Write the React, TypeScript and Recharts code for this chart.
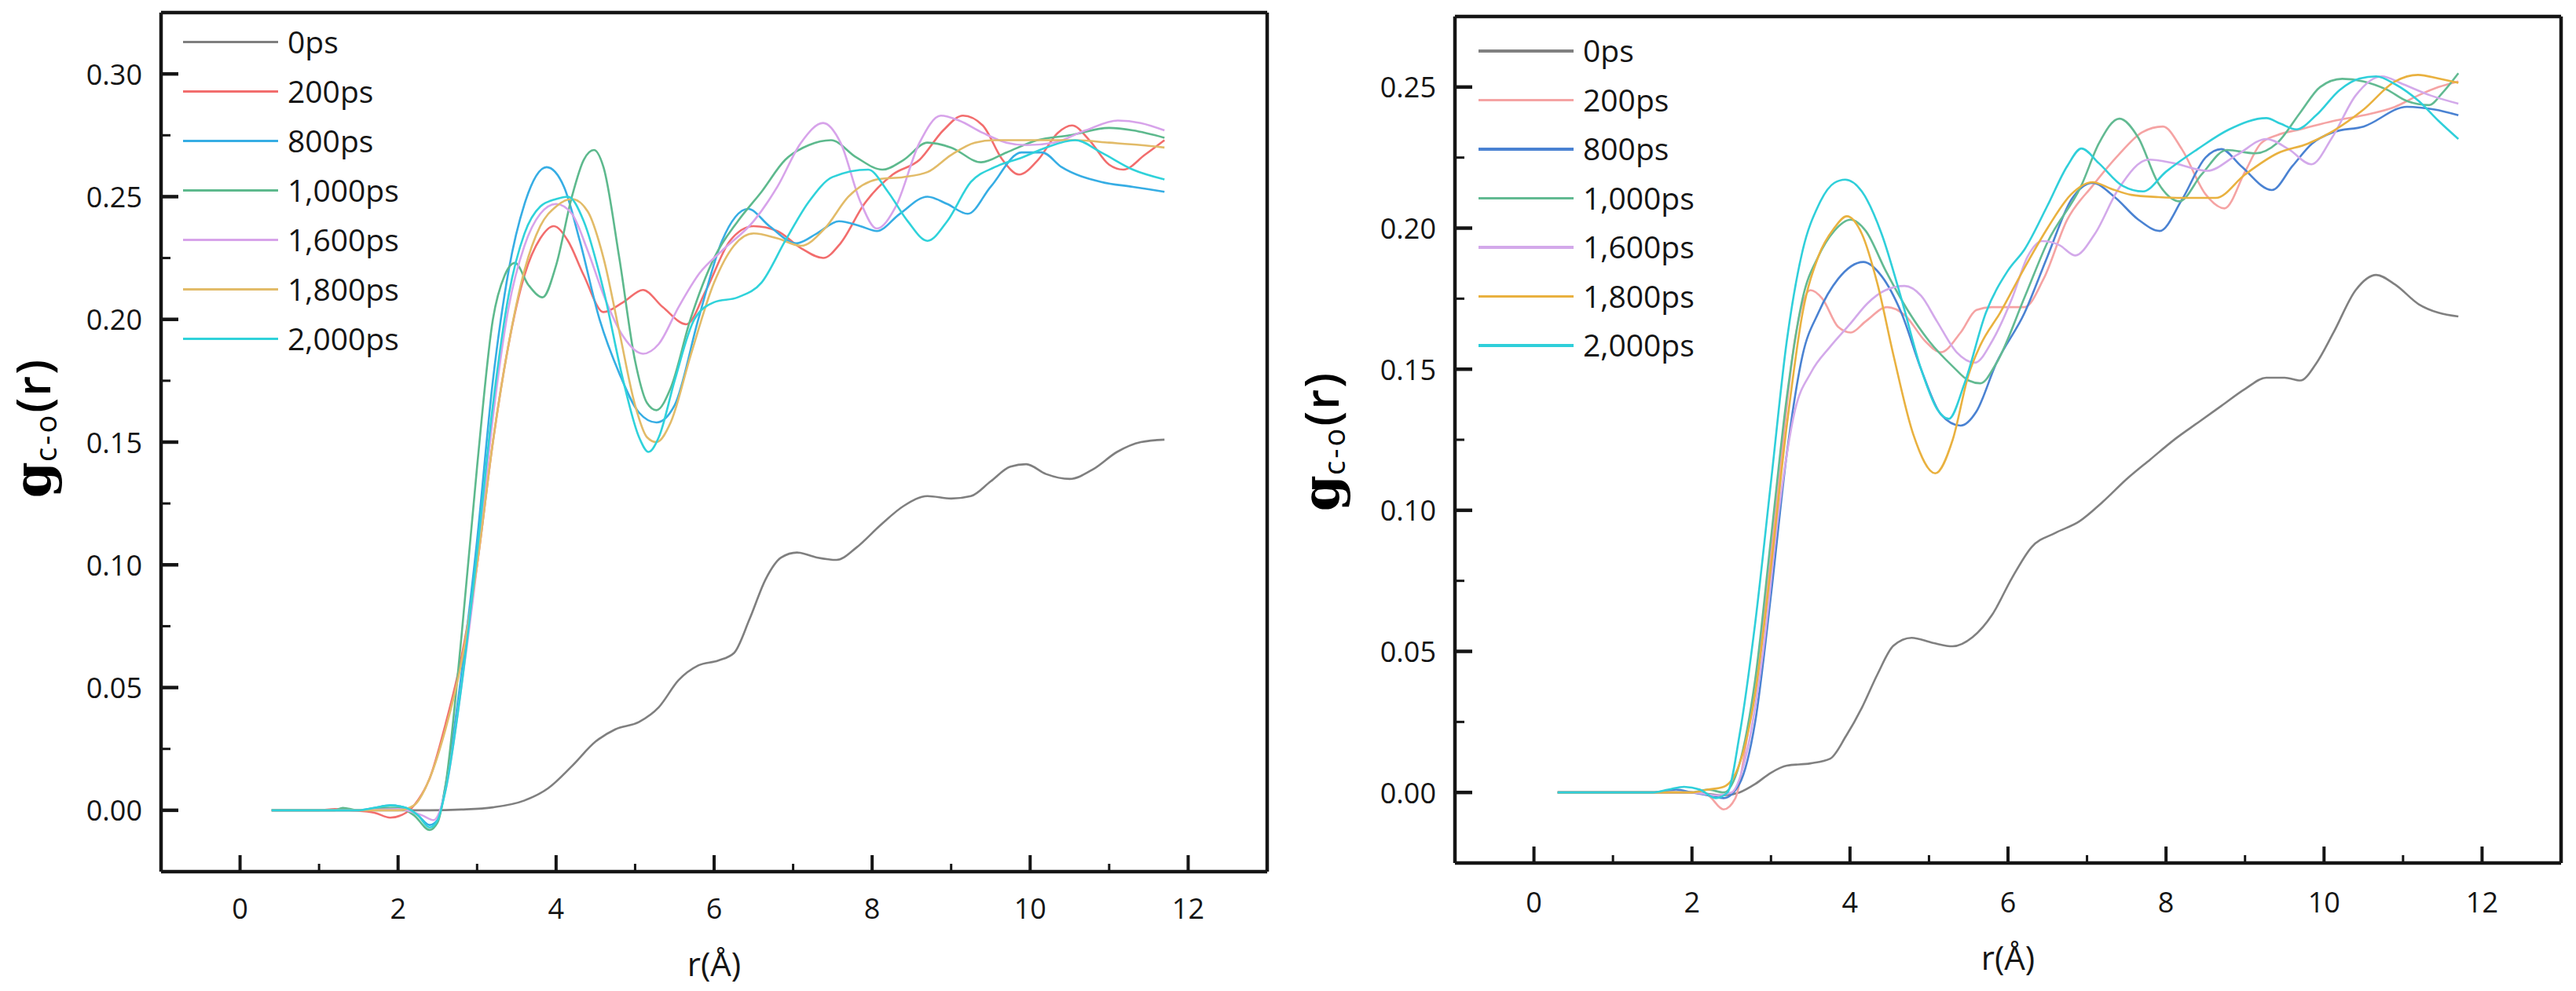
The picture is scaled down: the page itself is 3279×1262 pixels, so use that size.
import { LineChart, Line, XAxis, YAxis, ReferenceLine, Legend } from 'recharts';

type Pt = [number, number];

const H = 1262;
const SERIES = ['0ps', '200ps', '800ps', '1,000ps', '1,600ps', '1,800ps', '2,000ps'];
const X_TICKS = [0, 1, 2, 3, 4, 5, 6, 7, 8, 9, 10, 11, 12];
const Y_TICKS_LEFT = [0, 0.025, 0.05, 0.075, 0.1, 0.125, 0.15, 0.175, 0.2, 0.225, 0.25, 0.275, 0.3];
const Y_TICKS_RIGHT = [0, 0.025, 0.05, 0.075, 0.1, 0.125, 0.15, 0.175, 0.2, 0.225, 0.25];

const LEFT_COLORS = ['#7f7f7f', '#f26d6d', '#36ade4', '#5db98d', '#d7a3ea', '#e2bb68', '#2fd2da'];
const RIGHT_COLORS = ['#808080', '#f5a3a3', '#4a82d2', '#62ba92', '#d3a9ea', '#e9b13f', '#2fcfda'];

// ---- left panel: r (Å) vs g(r)
const L_0: Pt[] = [[0.4,0],[1.5,0],[2.4,0],[2.8,0.0003],[3.2,0.0012],[3.6,0.004],[3.9,0.009],[4.2,0.018],[4.5,0.028],[4.75,0.033],[5.05,0.036],[5.3,0.042],[5.55,0.053],[5.8,0.059],[6.05,0.061],[6.25,0.064],[6.45,0.078],[6.65,0.094],[6.85,0.103],[7.05,0.105],[7.3,0.103],[7.55,0.102],[7.8,0.107],[8.1,0.116],[8.4,0.124],[8.7,0.128],[9.0,0.127],[9.25,0.128],[9.5,0.134],[9.75,0.14],[9.95,0.141],[10.2,0.137],[10.5,0.135],[10.8,0.139],[11.1,0.146],[11.4,0.15],[11.7,0.151]];
const L_200: Pt[] = [[0.4,0],[1.0,0],[1.2,0.0005],[1.4,0],[1.7,-0.001],[1.9,-0.003],[2.1,-0.001],[2.25,0.004],[2.4,0.013],[2.6,0.035],[2.8,0.062],[3.0,0.1],[3.2,0.15],[3.4,0.19],[3.6,0.218],[3.8,0.233],[3.97,0.238],[4.15,0.232],[4.35,0.218],[4.6,0.203],[4.85,0.207],[5.1,0.212],[5.35,0.205],[5.65,0.198],[5.9,0.212],[6.2,0.232],[6.5,0.238],[6.8,0.236],[7.1,0.229],[7.38,0.225],[7.6,0.231],[7.9,0.247],[8.26,0.259],[8.6,0.265],[8.9,0.277],[9.15,0.283],[9.4,0.279],[9.65,0.265],[9.86,0.259],[10.1,0.265],[10.35,0.276],[10.53,0.279],[10.75,0.273],[11.0,0.263],[11.18,0.261],[11.45,0.267],[11.7,0.273]];
const L_800: Pt[] = [[0.4,0],[1.5,0],[1.7,0.001],[1.9,0.002],[2.1,0.001],[2.25,-0.002],[2.4,-0.006],[2.5,-0.004],[2.6,0.01],[2.8,0.055],[3.0,0.11],[3.2,0.175],[3.4,0.22],[3.6,0.247],[3.88,0.262],[4.1,0.254],[4.3,0.232],[4.55,0.2],[4.8,0.178],[5.05,0.162],[5.27,0.158],[5.5,0.165],[5.8,0.2],[6.1,0.232],[6.43,0.245],[6.7,0.238],[7.04,0.231],[7.3,0.235],[7.58,0.24],[7.85,0.238],[8.06,0.236],[8.35,0.243],[8.7,0.25],[8.95,0.247],[9.21,0.243],[9.5,0.254],[9.89,0.268],[10.15,0.268],[10.4,0.262],[10.9,0.256],[11.3,0.254],[11.7,0.252]];
const L_1000: Pt[] = [[0.4,0],[1.2,0],[1.3,0.001],[1.5,0],[1.8,0.001],[2.0,0.001],[2.2,-0.002],[2.4,-0.008],[2.5,-0.005],[2.6,0.01],[2.8,0.07],[3.0,0.14],[3.2,0.2],[3.35,0.218],[3.48,0.223],[3.65,0.214],[3.83,0.209],[4.0,0.222],[4.2,0.25],[4.35,0.265],[4.48,0.269],[4.6,0.262],[4.8,0.225],[5.0,0.183],[5.15,0.166],[5.27,0.163],[5.45,0.172],[5.7,0.2],[6.0,0.225],[6.3,0.24],[6.6,0.252],[6.9,0.265],[7.2,0.271],[7.48,0.273],[7.8,0.266],[8.13,0.261],[8.4,0.265],[8.7,0.272],[9.0,0.27],[9.38,0.264],[9.7,0.268],[10.09,0.273],[10.5,0.275],[11.0,0.278],[11.3,0.277],[11.7,0.274]];
const L_1600: Pt[] = [[0.4,0],[1.5,0],[2.0,0.0005],[2.3,-0.002],[2.45,-0.004],[2.6,0.008],[2.8,0.05],[3.0,0.1],[3.2,0.16],[3.4,0.205],[3.6,0.23],[3.8,0.243],[4.0,0.247],[4.2,0.243],[4.4,0.228],[4.6,0.21],[4.85,0.193],[5.1,0.186],[5.3,0.19],[5.55,0.205],[5.82,0.219],[6.1,0.228],[6.5,0.24],[6.8,0.254],[7.1,0.272],[7.38,0.28],[7.6,0.272],[7.85,0.248],[8.06,0.237],[8.3,0.246],[8.6,0.272],[8.87,0.283],[9.1,0.281],[9.4,0.276],[9.7,0.272],[9.95,0.271],[10.3,0.272],[10.7,0.277],[11.11,0.281],[11.4,0.28],[11.7,0.277]];
const L_1800: Pt[] = [[0.4,0],[1.5,0],[2.0,0],[2.2,0.002],[2.4,0.013],[2.6,0.033],[2.8,0.06],[3.0,0.1],[3.2,0.15],[3.4,0.19],[3.6,0.22],[3.8,0.238],[4.0,0.246],[4.2,0.249],[4.4,0.244],[4.6,0.225],[4.8,0.195],[5.0,0.165],[5.15,0.152],[5.27,0.15],[5.45,0.158],[5.7,0.185],[6.0,0.215],[6.25,0.23],[6.5,0.235],[6.8,0.233],[7.1,0.23],[7.4,0.237],[7.7,0.25],[8.06,0.257],[8.4,0.258],[8.7,0.26],[9.0,0.267],[9.3,0.272],[9.55,0.273],[10.0,0.273],[10.57,0.273],[11.0,0.272],[11.4,0.271],[11.7,0.27]];
const L_2000: Pt[] = [[0.4,0],[1.5,0],[1.7,0.001],[1.9,0.002],[2.1,0.001],[2.25,-0.002],[2.4,-0.007],[2.5,-0.004],[2.6,0.008],[2.8,0.05],[3.0,0.105],[3.2,0.165],[3.4,0.21],[3.6,0.235],[3.8,0.246],[4.0,0.249],[4.15,0.25],[4.35,0.24],[4.6,0.212],[4.85,0.175],[5.05,0.152],[5.17,0.146],[5.3,0.152],[5.5,0.175],[5.75,0.2],[6.0,0.207],[6.3,0.209],[6.6,0.215],[6.9,0.232],[7.2,0.248],[7.5,0.258],[7.95,0.261],[8.2,0.252],[8.45,0.24],[8.7,0.232],[8.95,0.24],[9.25,0.256],[9.55,0.262],[9.9,0.266],[10.2,0.27],[10.57,0.273],[10.9,0.268],[11.3,0.261],[11.7,0.257]];

// ---- right panel
const R_0: Pt[] = [[0.3,0],[1.5,0],[2.0,0],[2.4,-0.001],[2.6,0],[2.8,0.003],[3.0,0.007],[3.2,0.0095],[3.5,0.0103],[3.75,0.012],[3.95,0.02],[4.15,0.03],[4.35,0.042],[4.55,0.052],[4.78,0.0548],[5.05,0.053],[5.3,0.0518],[5.55,0.055],[5.8,0.063],[6.05,0.076],[6.3,0.087],[6.6,0.092],[6.9,0.096],[7.2,0.103],[7.5,0.111],[7.8,0.118],[8.13,0.1256],[8.4,0.131],[8.7,0.137],[9.0,0.143],[9.27,0.147],[9.5,0.147],[9.7,0.146],[9.9,0.152],[10.12,0.163],[10.4,0.178],[10.66,0.1834],[10.9,0.18],[11.2,0.173],[11.45,0.17],[11.7,0.1687]];
const R_200: Pt[] = [[0.3,0],[1.5,0],[2.0,0],[2.2,-0.001],[2.4,-0.006],[2.55,-0.002],[2.7,0.02],[2.9,0.06],[3.1,0.11],[3.3,0.16],[3.5,0.178],[3.65,0.175],[3.85,0.165],[4.01,0.163],[4.2,0.167],[4.47,0.172],[4.7,0.169],[4.95,0.16],[5.15,0.156],[5.4,0.163],[5.6,0.171],[5.79,0.172],[6.0,0.172],[6.21,0.172],[6.45,0.182],[6.75,0.203],[7.07,0.215],[7.4,0.226],[7.7,0.234],[7.96,0.236],[8.2,0.228],[8.5,0.212],[8.74,0.207],[9.0,0.22],[9.2,0.23],[9.41,0.233],[9.7,0.235],[10.12,0.238],[10.5,0.24],[10.9,0.243],[11.19,0.247],[11.45,0.25],[11.7,0.252]];
const R_800: Pt[] = [[0.3,0],[1.5,0],[1.8,0.001],[2.0,0],[2.2,-0.001],[2.4,-0.002],[2.6,0.003],[2.8,0.025],[3.0,0.07],[3.2,0.12],[3.4,0.155],[3.6,0.17],[3.85,0.182],[4.17,0.188],[4.4,0.183],[4.65,0.17],[4.9,0.15],[5.15,0.134],[5.4,0.13],[5.6,0.135],[5.85,0.152],[6.21,0.17],[6.5,0.19],[6.8,0.21],[7.07,0.216],[7.35,0.211],[7.65,0.203],[7.92,0.199],[8.2,0.21],[8.5,0.225],[8.7,0.228],[8.95,0.222],[9.34,0.2135],[9.6,0.222],[9.85,0.23],[10.12,0.234],[10.5,0.236],[11.05,0.243],[11.4,0.242],[11.7,0.24]];
const R_1000: Pt[] = [[0.3,0],[1.5,0],[2.0,0],[2.2,0.001],[2.4,0],[2.6,0.01],[2.8,0.04],[3.0,0.09],[3.2,0.14],[3.4,0.175],[3.6,0.19],[3.8,0.199],[4.01,0.203],[4.2,0.199],[4.45,0.185],[4.75,0.17],[5.0,0.16],[5.3,0.151],[5.5,0.146],[5.65,0.145],[5.85,0.152],[6.21,0.1755],[6.5,0.195],[6.93,0.2152],[7.15,0.23],[7.41,0.2388],[7.65,0.232],[7.9,0.216],[8.17,0.2095],[8.45,0.219],[8.77,0.2277],[9.13,0.2265],[9.4,0.23],[9.7,0.241],[9.95,0.25],[10.23,0.2529],[10.5,0.252],[10.8,0.249],[11.05,0.245],[11.33,0.2436],[11.5,0.248],[11.7,0.2549]];
const R_1600: Pt[] = [[0.3,0],[1.5,0],[2.0,0],[2.3,-0.001],[2.5,0],[2.7,0.015],[2.9,0.05],[3.1,0.1],[3.3,0.135],[3.51,0.149],[3.75,0.158],[4.0,0.166],[4.22,0.1733],[4.45,0.178],[4.69,0.1795],[4.9,0.176],[5.1,0.167],[5.35,0.156],[5.58,0.1523],[5.8,0.16],[6.05,0.175],[6.25,0.19],[6.43,0.1954],[6.65,0.194],[6.85,0.1903],[7.1,0.198],[7.4,0.214],[7.78,0.2243],[8.1,0.223],[8.52,0.2203],[8.9,0.226],[9.27,0.2316],[9.55,0.228],[9.84,0.2226],[10.1,0.232],[10.4,0.247],[10.73,0.2538],[11.0,0.251],[11.35,0.247],[11.7,0.2441]];
const R_1800: Pt[] = [[0.3,0],[1.5,0],[2.0,0],[2.2,0.001],[2.4,0.002],[2.6,0.01],[2.8,0.035],[3.0,0.08],[3.2,0.13],[3.4,0.17],[3.6,0.19],[3.8,0.2],[3.96,0.2042],[4.15,0.198],[4.35,0.18],[4.55,0.155],[4.8,0.127],[5.08,0.1131],[5.3,0.125],[5.5,0.148],[5.65,0.1585],[5.9,0.17],[6.21,0.186],[6.5,0.2],[6.8,0.212],[7.07,0.2163],[7.3,0.214],[7.56,0.2118],[7.9,0.211],[8.2,0.2107],[8.63,0.2107],[9.0,0.219],[9.41,0.2265],[9.8,0.23],[10.12,0.2345],[10.5,0.242],[10.9,0.252],[11.19,0.2543],[11.45,0.253],[11.7,0.2515]];
const R_2000: Pt[] = [[0.3,0],[1.5,0],[1.7,0.001],[1.9,0.002],[2.1,0.001],[2.3,-0.002],[2.45,0],[2.6,0.02],[2.8,0.06],[3.0,0.11],[3.2,0.16],[3.4,0.192],[3.6,0.208],[3.8,0.216],[3.94,0.2172],[4.15,0.213],[4.4,0.198],[4.65,0.175],[4.9,0.15],[5.1,0.136],[5.25,0.1324],[5.45,0.145],[5.72,0.17],[6.0,0.185],[6.21,0.1925],[6.5,0.208],[6.75,0.222],[6.93,0.2282],[7.15,0.223],[7.45,0.215],[7.71,0.213],[8.0,0.22],[8.4,0.228],[8.8,0.235],[9.27,0.239],[9.45,0.237],[9.65,0.235],[9.9,0.24],[10.2,0.249],[10.45,0.253],[10.66,0.2538],[10.9,0.251],[11.2,0.245],[11.45,0.238],[11.7,0.2316]];

const LEFT_SERIES = [L_0, L_200, L_800, L_1000, L_1600, L_1800, L_2000];
const RIGHT_SERIES = [R_0, R_200, R_800, R_1000, R_1600, R_1800, R_2000];

const FONT = '"Open Sans", "Noto Sans", sans-serif';
const INK = '#151515';
const toRows = (pts: Pt[]) => pts.map(([r, g]) => ({ r, g }));

interface Box { left: number; top: number; right: number; bottom: number; }
interface PanelProps {
  width: number;
  series: Pt[][];
  colors: string[];
  yTop: number;
  yTicks: number[];
  box: Box;
  legendPos: { x: number; y: number; rowH: number; lineW: number };
  yLabel: { x: number; y: number };
  xLabelY: number;
  xTickDy: number;
}

function Panel({ width, series, colors, yTop, yTicks, box, legendPos, yLabel, xLabelY, xTickDy }: PanelProps) {
  const margin = { top: box.top, right: width - box.right, bottom: H - box.bottom - 100, left: box.left - 180 };
  const axisLine = { stroke: INK, strokeWidth: 4.5 };

  const xTick = (p: any) => {
    const v = p.payload.value;
    const major = v % 2 === 0;
    return (
      <g>
        <line x1={p.x} x2={p.x} y1={box.bottom} y2={box.bottom - (major ? 21 : 10)} stroke={INK} strokeWidth={major ? 4 : 3} />
        {major && (
          <text x={p.x} y={box.bottom + xTickDy} textAnchor="middle" dominantBaseline="central" fontSize={36} fontFamily={FONT} fill={INK}>{v}</text>
        )}
      </g>
    );
  };

  const yTick = (p: any) => {
    const v = p.payload.value;
    const major = Math.round(v * 1000) % 50 === 0;
    return (
      <g>
        <line x1={box.left} x2={box.left + (major ? 22 : 12)} y1={p.y} y2={p.y} stroke={INK} strokeWidth={major ? 4.5 : 3} />
        {major && (
          <text x={box.left - 24} y={p.y} textAnchor="end" dominantBaseline="central" fontSize={36} fontFamily={FONT} fill={INK}>{v.toFixed(2)}</text>
        )}
      </g>
    );
  };

  const yLabelEl = () => (
    <text x={yLabel.x} y={yLabel.y} transform={`rotate(-90, ${yLabel.x}, ${yLabel.y})`} textAnchor="middle" fill="#000">
      <tspan fontFamily='"DejaVu Serif", serif' fontWeight="bold" fontSize={66}>g</tspan>
      <tspan fontFamily={FONT} fontSize={38} dy={8} letterSpacing={3}>c-o</tspan>
      <tspan fontFamily={FONT} fontWeight={600} fontSize={60} dy={-8} letterSpacing={2}>(r)</tspan>
    </text>
  );

  const xLabelEl = () => (
    <text x={(box.left + box.right) / 2} y={xLabelY} textAnchor="middle" dominantBaseline="central" fontSize={42} fontFamily={FONT} fill={INK}>r(Å)</text>
  );

  // legend rows follow the series order, not the alphabetical payload order
  const legendContent = () => (
    <div style={{ position: 'relative', width: legendPos.lineW + 220, height: legendPos.rowH * SERIES.length, fontFamily: FONT, fontSize: 39, color: INK, lineHeight: 1, whiteSpace: 'nowrap' }}>
      {SERIES.map((name, i) => (
        <div key={name} style={{ position: 'absolute', left: 0, top: i * legendPos.rowH, width: legendPos.lineW + 220, height: legendPos.rowH }}>
          <div style={{ position: 'absolute', left: 0, top: legendPos.rowH / 2 - 2, width: legendPos.lineW, height: 3.5, background: colors[i] }} />
          <div style={{ position: 'absolute', left: legendPos.lineW + 12, top: legendPos.rowH / 2 - 21 }}>{name}</div>
        </div>
      ))}
    </div>
  );

  return (
    <LineChart width={width} height={H} margin={margin}>
      <XAxis type="number" dataKey="r" domain={[-1, 13]} ticks={X_TICKS} interval={0} allowDataOverflow
        height={100} tickLine={false} axisLine={axisLine} tick={xTick} label={xLabelEl} />
      <YAxis type="number" dataKey="g" domain={[-0.025, yTop]} ticks={yTicks} interval={0} allowDataOverflow
        width={180} tickLine={false} axisLine={axisLine} tick={yTick} label={yLabelEl} />
      <ReferenceLine x={13} stroke={INK} strokeWidth={4.5} />
      <ReferenceLine y={yTop} stroke={INK} strokeWidth={4.5} />
      <Legend layout="horizontal" align="center" verticalAlign="middle"
        wrapperStyle={{ left: legendPos.x, top: legendPos.y, width: legendPos.lineW + 220 }} content={legendContent} />
      {series.map((pts, i) => (
        <Line key={SERIES[i]} data={toRows(pts)} dataKey="g" name={SERIES[i]} type="monotone"
          stroke={colors[i]} strokeWidth={2.6} dot={false} activeDot={false} isAnimationActive={false} />
      ))}
    </LineChart>
  );
}

export default function App() {
  return (
    <div style={{ position: 'absolute', left: 0, top: 0, width: 3279, height: H, background: '#fff' }}>
      <div style={{ position: 'absolute', left: 0, top: 0 }}>
        <Panel width={1640} series={LEFT_SERIES} colors={LEFT_COLORS} yTop={0.325} yTicks={Y_TICKS_LEFT}
          box={{ left: 205, top: 16, right: 1613, bottom: 1110 }}
          legendPos={{ x: 233, y: 22, rowH: 63, lineW: 121 }}
          yLabel={{ x: 64, y: 545 }} xLabelY={1226} xTickDy={46} />
      </div>
      <div style={{ position: 'absolute', left: 1640, top: 0 }}>
        <Panel width={1639} series={RIGHT_SERIES} colors={RIGHT_COLORS} yTop={0.275} yTicks={Y_TICKS_RIGHT}
          box={{ left: 212, top: 21, right: 1620, bottom: 1099 }}
          legendPos={{ x: 242, y: 34, rowH: 62.5, lineW: 121 }}
          yLabel={{ x: 64, y: 562 }} xLabelY={1218} xTickDy={49} />
      </div>
    </div>
  );
}
